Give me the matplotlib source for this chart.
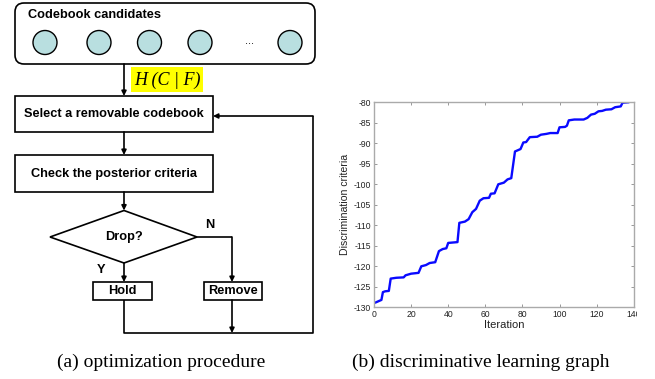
import matplotlib
matplotlib.use("Agg")
import matplotlib.pyplot as plt
from matplotlib.patches import FancyBboxPatch, Rectangle, Circle, Polygon

plt.rcParams["axes.unicode_minus"] = False

# discriminative learning curve
iteration = [1, 3, 4, 4.8, 6, 8, 9, 12, 16, 17, 20, 24, 25.5, 28, 30, 33,
             35, 37, 39, 40, 45, 46, 49, 51, 53, 55, 57, 59, 62, 63, 65, 67,
             70, 72, 74, 76, 78, 79, 80.5, 82, 84, 88, 90, 93, 95, 99, 100,
             103, 104, 105, 108, 113, 115, 117, 119, 121, 123, 125, 128, 130,
             133, 134, 137]
criteria = [-128.8, -128.4, -128.2, -126.3, -126.1, -126.0, -123.0, -122.8,
            -122.7, -122.2, -121.8, -121.6, -120.0, -119.7, -119.2, -119.0,
            -116.3, -115.8, -115.6, -114.3, -114.1, -109.4, -109.1, -108.5,
            -106.8, -106.0, -104.0, -103.4, -103.3, -102.3, -102.2, -100.0,
            -99.6, -98.8, -98.5, -92.0, -91.6, -91.4, -89.8, -89.7, -88.5,
            -88.4, -87.9, -87.7, -87.5, -87.5, -86.1, -86.0, -85.7, -84.4,
            -84.2, -84.2, -83.8, -83.0, -82.8, -82.2, -82.1, -81.8, -81.7,
            -81.2, -81.0, -80.1, -80.0]
x_ticks = [0, 20, 40, 60, 80, 100, 120, 140]
y_ticks = [-130, -125, -120, -115, -110, -105, -100, -95, -90, -85, -80]

# flowchart labels
title_text = "Codebook candidates"
step_select = "Select a removable codebook"
step_check = "Check the posterior criteria"
decision = "Drop?"
captions = ["(a) optimization procedure", "(b) discriminative learning graph"]

W, H = 655, 379
fig = plt.figure(figsize=(W / 100, H / 100), dpi=100)

# --- flowchart, drawn in pixel units ---
fc = fig.add_axes([0, 0, 1, 1])
fc.set_xlim(0, W)
fc.set_ylim(H, 0)
fc.axis("off")

lw = 1.2
bold = dict(fontfamily="Liberation Sans", fontweight="bold", fontsize=9.2,
            color="black")

fc.add_patch(FancyBboxPatch((15, 3), 300, 61, boxstyle="round,pad=0,rounding_size=9",
                            fc="white", ec="black", lw=lw))
fc.text(28, 15, title_text, ha="left", va="center", **bold)
for cx in [45, 99, 149.5, 200, 290]:
    fc.add_patch(Circle((cx, 42.5), 12, fc="#b9dfe0", ec="black", lw=1.0))
fc.text(249, 41, "...", ha="center", va="center", fontsize=8,
        fontfamily="Liberation Sans")


def arrow(x0, y0, x1, y1):
    fc.annotate("", xy=(x1, y1), xytext=(x0, y0),
                arrowprops=dict(arrowstyle="-|>", color="black", lw=lw,
                                mutation_scale=7, shrinkA=0, shrinkB=0))


def line(xs, ys):
    fc.plot(xs, ys, color="black", lw=lw, solid_capstyle="butt")


# first arrow with H(C|F)
arrow(124, 64, 124, 96)
fc.add_patch(Rectangle((131, 67), 72, 25, fc="#ffff00", ec="none"))
fc.text(167, 80, "H (C | F)", ha="center", va="center", fontsize=13,
        fontfamily="Liberation Serif", style="italic")

fc.add_patch(Rectangle((15, 96), 198, 36, fc="white", ec="black", lw=lw))
fc.text(114, 114, step_select, ha="center", va="center", **bold)
arrow(124, 132, 124, 155)

fc.add_patch(Rectangle((15, 155), 198, 37, fc="white", ec="black", lw=lw))
fc.text(114, 174, step_check, ha="center", va="center", **bold)
arrow(124, 192, 124, 210.5)

fc.add_patch(Polygon([(50, 237), (124, 210.5), (197, 237), (124, 263)],
                     closed=True, fc="white", ec="black", lw=lw))
fc.text(124, 237, decision, ha="center", va="center", **bold)
fc.text(210, 225, "N", ha="center", va="center", **bold)
fc.text(101, 270, "Y", ha="center", va="center", **bold)

line([197, 232], [237, 237])
arrow(232, 237, 232, 282)
arrow(124, 263, 124, 282)

fc.add_patch(Rectangle((93, 282), 59, 18, fc="white", ec="black", lw=lw))
fc.text(122.5, 291, "Hold", ha="center", va="center", **bold)
fc.add_patch(Rectangle((204, 282), 58, 18, fc="white", ec="black", lw=lw))
fc.text(233, 291, "Remove", ha="center", va="center", **bold)

line([124, 124, 313, 313], [300, 333, 333, 116])
arrow(232, 300, 232, 333)
arrow(313, 116, 213, 116)

# --- learning graph ---
ax = fig.add_axes([374 / W, 1 - 307.3 / H, (633.7 - 374) / W, (307.3 - 102.3) / H])
ax.plot(iteration, criteria, color="#0a0aff", lw=1.7)
ax.set_xlim(0, 140)
ax.set_ylim(-130, -80)
ax.set_xticks(x_ticks)
ax.set_yticks(y_ticks)
ax.tick_params(direction="in", top=True, right=True, length=2.5, width=0.6,
               color="#888888", labelsize=6.2, labelcolor="#222222", pad=2)
for sp in ax.spines.values():
    sp.set_color("#aaaaaa")
    sp.set_linewidth(1.0)
for lab in ax.get_xticklabels() + ax.get_yticklabels():
    lab.set_fontfamily("Liberation Sans")
ax.set_xlabel("Iteration", fontsize=8, fontfamily="Liberation Sans",
              color="#222222", labelpad=1)
ax.set_ylabel("Discrimination criteria", fontsize=7.6,
              fontfamily="Liberation Sans", color="#222222", labelpad=3)

# the source image is cut just right of the chart
fig.patches.append(Rectangle((637 / W, 0), 1, 1, transform=fig.transFigure,
                             fc="white", ec="none", zorder=10))

# captions
fig.text(161 / W, 1 - 362 / H, captions[0], ha="center", va="center",
         fontsize=14, fontfamily="Liberation Serif")
fig.text(481 / W, 1 - 362 / H, captions[1], ha="center", va="center",
         fontsize=14, fontfamily="Liberation Serif")

fig.savefig("out.png", dpi=100)
